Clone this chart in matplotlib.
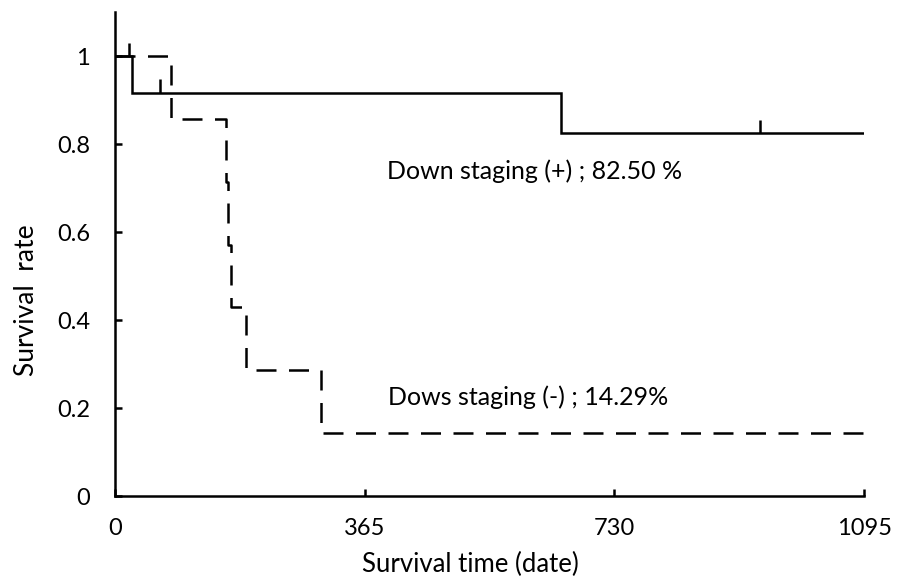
import numpy as np
import matplotlib.pyplot as plt

plt.rcParams['font.family'] = ['Lato', 'DejaVu Sans']

# Kaplan-Meier steps (days, survival)
time_pos = [0, 25, 652, 1095]
surv_pos = [1.0, 0.9167, 0.825, 0.825]
time_neg = [0, 82, 162, 165, 169, 192, 301, 1095]
surv_neg = [1.0, 0.857, 0.714, 0.571, 0.429, 0.286, 0.143, 0.143]

# censor marks
cens_t = [20, 66, 943]
cens_s = [1.0, 0.9167, 0.825]

x_ticks = [0, 365, 730, 1095]
y_ticks = [0, 0.2, 0.4, 0.6, 0.8, 1.0]
y_ticklabels = ['0', '0.2', '0.4', '0.6', '0.8', '1']

label_pos = "Down staging (+) ; 82.50 %"
label_neg = "Dows staging (-) ; 14.29%"

fig = plt.figure(figsize=(9.06, 5.80), dpi=100)
ax = fig.add_axes([0.127, 0.1448, 0.8267, 0.8345])

lw = 1.8
ax.step(time_pos, surv_pos, where='post', color='black', lw=lw, solid_joinstyle='miter')
ax.step(time_neg, surv_neg, where='post', color='black', lw=lw, linestyle=(0, (8, 5)))
ax.vlines(cens_t, cens_s, np.array(cens_s) + 0.03, color='black', lw=lw)

ax.text(398, 0.72, label_pos, fontsize=18, va='baseline', ha='left')
ax.text(399, 0.207, label_neg, fontsize=18, va='baseline', ha='left')

ax.set_xlim(0, 1095)
ax.set_ylim(0, 1.1)
ax.set_xticks(x_ticks)
ax.set_yticks(y_ticks)
ax.set_yticklabels(y_ticklabels)

for s in ['top', 'right']:
    ax.spines[s].set_visible(False)
for s in ['left', 'bottom']:
    ax.spines[s].set_linewidth(lw)

ax.tick_params(axis='x', direction='in', length=5, width=lw, pad=16, labelsize=17)
ax.tick_params(axis='y', direction='in', length=5, width=lw, pad=18, labelsize=17)

ax.set_xlabel("Survival time (date)", fontsize=18.5, labelpad=9, x=0.475)
ax.set_ylabel("Survival  rate", fontsize=19, labelpad=13, y=0.405)

fig.savefig("out.png", dpi=100)
